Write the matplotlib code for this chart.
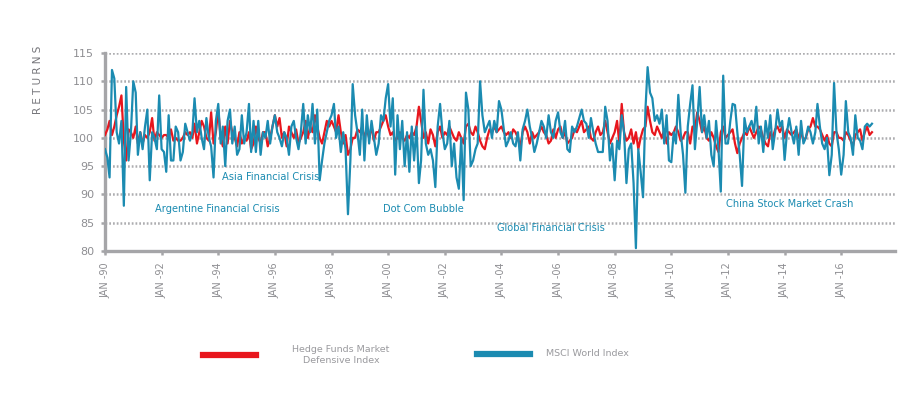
import numpy as np
import pandas as pd
import matplotlib
matplotlib.use("Agg")
import matplotlib.pyplot as plt
from matplotlib.lines import Line2D

# monthly index values, Jan 1990 .. Feb 2017 (one row per year)
hfmd = [
    100.5, 101.5, 103, 100.5, 102, 104, 105.5, 107.5, 99.5, 96, 101.5, 101,      # 1990
    100, 102, 99, 101, 99, 100.5, 100, 101, 103.5, 99.5, 101, 100.5,             # 1991
    100, 100.5, 100.5, 100, 101.5, 99.5, 100, 99.5, 99.5, 100, 101, 100.5,       # 1992
    101, 100, 102.5, 99, 101, 103, 102, 100, 99.5, 104.5, 99, 101,               # 1993
    105, 100, 98.5, 102, 99, 103, 101, 100, 98.5, 101, 99, 100,                  # 1994
    99.5, 101, 98, 99, 102, 100, 99, 101, 101, 98.5, 100, 102,                   # 1995
    104, 102, 103.5, 100, 101, 98.5, 102, 101, 100, 101.5, 99, 100,              # 1996
    101, 103, 100, 102, 101, 104, 102, 100, 99, 101, 103, 102,                   # 1997
    103, 102, 101, 104, 101, 99, 100.5, 97, 98, 100, 100, 101.5,                 # 1998
    101, 102, 100, 101.5, 100, 102, 99.5, 101, 101, 102, 103, 104,               # 1999
    102, 100.5, 101, 99.5, 100, 101, 100, 99.5, 100.5, 100, 101, 100.5,          # 2000
    102, 105.5, 103, 100, 101, 99, 101.5, 100.5, 98.5, 101, 102, 100,            # 2001
    101, 100.5, 102, 101, 100, 99.5, 101, 100, 99, 102, 102.5, 101,              # 2002
    100.5, 102, 101, 99.5, 98.5, 98, 100, 101.5, 101, 102, 101, 101.5,           # 2003
    102, 101, 100.5, 101, 100, 101.5, 101, 100, 98.5, 101, 102, 101,             # 2004
    99, 101, 100, 100.5, 101, 102, 101, 100.5, 99, 99.5, 101.5, 100,             # 2005
    101.5, 102, 100, 101, 99, 99.5, 100, 101.5, 101, 102, 103, 101,              # 2006
    101.5, 102, 100, 99.5, 101, 102, 100.5, 101, 103, 101, 99, 100,              # 2007
    101, 103, 99, 106, 101, 99.5, 100, 101.5, 99, 101, 98, 100,                  # 2008
    101.5, 102, 105.5, 103, 101, 100.5, 102, 101, 100, 101.5, 99, 101,           # 2009
    100.5, 101, 102, 101, 99.5, 100, 101, 101, 99, 102, 101.5, 104.5,            # 2010
    103, 101, 102, 100, 99.5, 101, 100, 98.5, 97.5, 101, 102, 100,               # 2011
    100.5, 101, 101.5, 99, 97.3, 99, 100, 101, 100.5, 102, 101, 100,             # 2012
    101, 102, 101.5, 100, 99, 98.5, 101, 100, 101.5, 102, 101, 102,              # 2013
    100, 101.5, 101, 100.5, 101, 101.5, 100, 101, 99.5, 100, 101.5, 102,         # 2014
    103.5, 102, 102, 101.5, 100.5, 99.5, 100.5, 99, 98.5, 101, 101, 100,         # 2015
    100, 99.5, 101, 100.5, 99.5, 98.5, 100.5, 101, 101.5, 99.5, 101, 102,        # 2016
    100.5, 101,                                                                  # 2017
]

msci = [
    98, 96.5, 93, 112, 110.5, 101, 99, 103, 88, 109, 96, 101,                    # 1990
    110, 108, 97, 101, 98, 102, 105, 92.5, 101, 100, 98, 107.5,                  # 1991
    98, 97.5, 94, 104, 96, 96, 102, 101, 96, 97.5, 102.5, 101,                   # 1992
    99.5, 101, 107, 101, 103, 100, 98, 103.5, 100, 98.5, 93, 103,                # 1993
    106, 99, 102, 95, 103, 105, 99, 102, 97, 98, 104, 99,                        # 1994
    101, 106, 97.5, 103, 97.5, 103, 97, 101, 100, 103, 99, 102,                  # 1995
    104, 101, 100, 98.5, 101, 100, 97, 102, 103, 100, 98, 101,                   # 1996
    106, 99, 104, 101, 106, 99, 105, 92.5, 96, 99, 101, 103,                     # 1997
    104, 106, 100, 102, 97.5, 101, 98, 86.5, 96, 109.5, 104, 101,                # 1998
    97, 105, 96, 104, 99, 103, 100, 97, 99, 104, 103, 107,                       # 1999
    109.5, 102, 107, 93.5, 104, 98, 103, 95, 101, 94, 102, 96,                   # 2000
    102, 92, 96, 108.5, 99, 97, 98, 96, 91.3, 102, 106, 101,                     # 2001
    98, 99, 103, 95, 99, 93, 91, 100, 89, 108, 105, 95,                          # 2002
    96, 98, 99, 110, 104, 101, 102, 103, 100, 103, 101, 106.5,                   # 2003
    105, 101.5, 98.5, 99.5, 101, 99, 98.5, 101, 96, 101.5, 103, 105,             # 2004
    102, 100, 97.5, 99, 101, 103, 102, 100, 104, 101, 100, 103,                  # 2005
    104.5, 101, 100, 103, 98, 97.5, 102, 101, 102, 103.5, 105, 103,              # 2006
    102.5, 100, 103.5, 101, 99, 97.5, 97.5, 97.5, 105.5, 103, 96, 99,            # 2007
    92.5, 99.5, 98, 104, 101, 92, 98, 99, 92, 80.5, 98, 94,                      # 2008
    89.5, 105, 112.5, 108, 107, 103, 104, 102.5, 105, 99, 104, 96,               # 2009
    95.7, 101, 99, 107.6, 101, 97, 90.3, 102, 106, 109.3, 98, 103,               # 2010
    109, 101, 104, 100, 103, 97, 95, 103, 98, 90.5, 111, 99,                     # 2011
    99, 103, 106, 105.8, 101, 97, 91.5, 103.5, 101, 102, 103, 101,               # 2012
    105.5, 99, 102, 97.5, 103, 100, 104, 98, 101, 105, 102, 103,                 # 2013
    96.1, 101, 103.5, 101, 99, 102, 97, 103, 99, 100, 102, 101,                  # 2014
    99, 101, 106, 102, 99, 98, 100, 93.4, 97, 109.7, 101, 98,                    # 2015
    93.5, 97, 106.5, 101, 100, 97, 104, 100, 99.5, 98, 102, 102.5,               # 2016
    102, 102.5,                                                                  # 2017
]

tick_years = list(range(1990, 2017, 2))
tick_labels = ["JAN -%02d" % (y % 100) for y in tick_years]
y_ticks = [80, 85, 90, 95, 100, 105, 110, 115]

event_names = ["Asia Financial Crisis", "Argentine Financial Crisis", "Dot Com Bubble",
               "Global Financial Crisis", "China Stock Market Crash"]
event_dates = ["1994-02-15", "1991-10-05", "1999-10-25", "2003-11-05", "2011-12-10"]
event_levels = [93.1, 87.4, 87.4, 84.1, 88.3]

red = "#e8161d"
blue = "#1b8bb1"
gray = "#a5a5a8"
txt = "#8e8e92"

dates = pd.date_range("1990-01-01", periods=len(msci), freq="MS")

fig = plt.figure(figsize=(9, 3.98), dpi=100)
ax = fig.add_axes([105 / 900, 1 - 251 / 398, 790 / 900, 198 / 398])

ax.plot(dates, hfmd, color=red, lw=1.6, zorder=3)
ax.plot(dates, msci, color=blue, lw=1.6, zorder=4)

ax.set_ylim(80, 115)
ax.set_xlim(pd.Timestamp("1990-01-01"), pd.Timestamp("2017-11-25"))
ax.set_yticks(y_ticks)
ax.set_yticklabels([str(v) for v in y_ticks], fontsize=8, color=txt)
ax.set_xticks([pd.Timestamp("%d-01-01" % y) for y in tick_years])
ax.set_xticklabels(tick_labels, rotation=90, fontsize=7, color=txt)

for v in y_ticks[1:]:
    ax.axhline(v, color="#adadb0", lw=1.8, dashes=(0.7, 0.8), zorder=1)

for s in ["top", "right"]:
    ax.spines[s].set_visible(False)
for s in ["left", "bottom"]:
    ax.spines[s].set_color(gray)
    ax.spines[s].set_linewidth(2.4)
ax.tick_params(axis="both", colors=gray, length=3, width=1.8, pad=5, labelcolor=txt)

for name, d, lv in zip(event_names, event_dates, event_levels):
    ax.text(pd.Timestamp(d), lv, name, color=blue, fontsize=7.1, ha="left", va="center", zorder=5)

fig.text(38 / 900, 1 - 80 / 398, "R E T U R N S", rotation=90, fontsize=7.5,
         color="#75757a", ha="center", va="center")

# legend
fig.add_artist(Line2D([203 / 900, 256 / 900], [1 - 355 / 398] * 2, color=red, lw=4.5))
fig.text(341 / 900, 1 - 355 / 398, "Hedge Funds Market\nDefensive Index", fontsize=6.8,
         color="#9a9a9e", ha="center", va="center", linespacing=1.35)
fig.add_artist(Line2D([477 / 900, 530 / 900], [1 - 354 / 398] * 2, color=blue, lw=4.5))
fig.text(546 / 900, 1 - 354 / 398, "MSCI World Index", fontsize=6.8, color="#9a9a9e",
         ha="left", va="center")

fig.savefig("out.png", dpi=100)
